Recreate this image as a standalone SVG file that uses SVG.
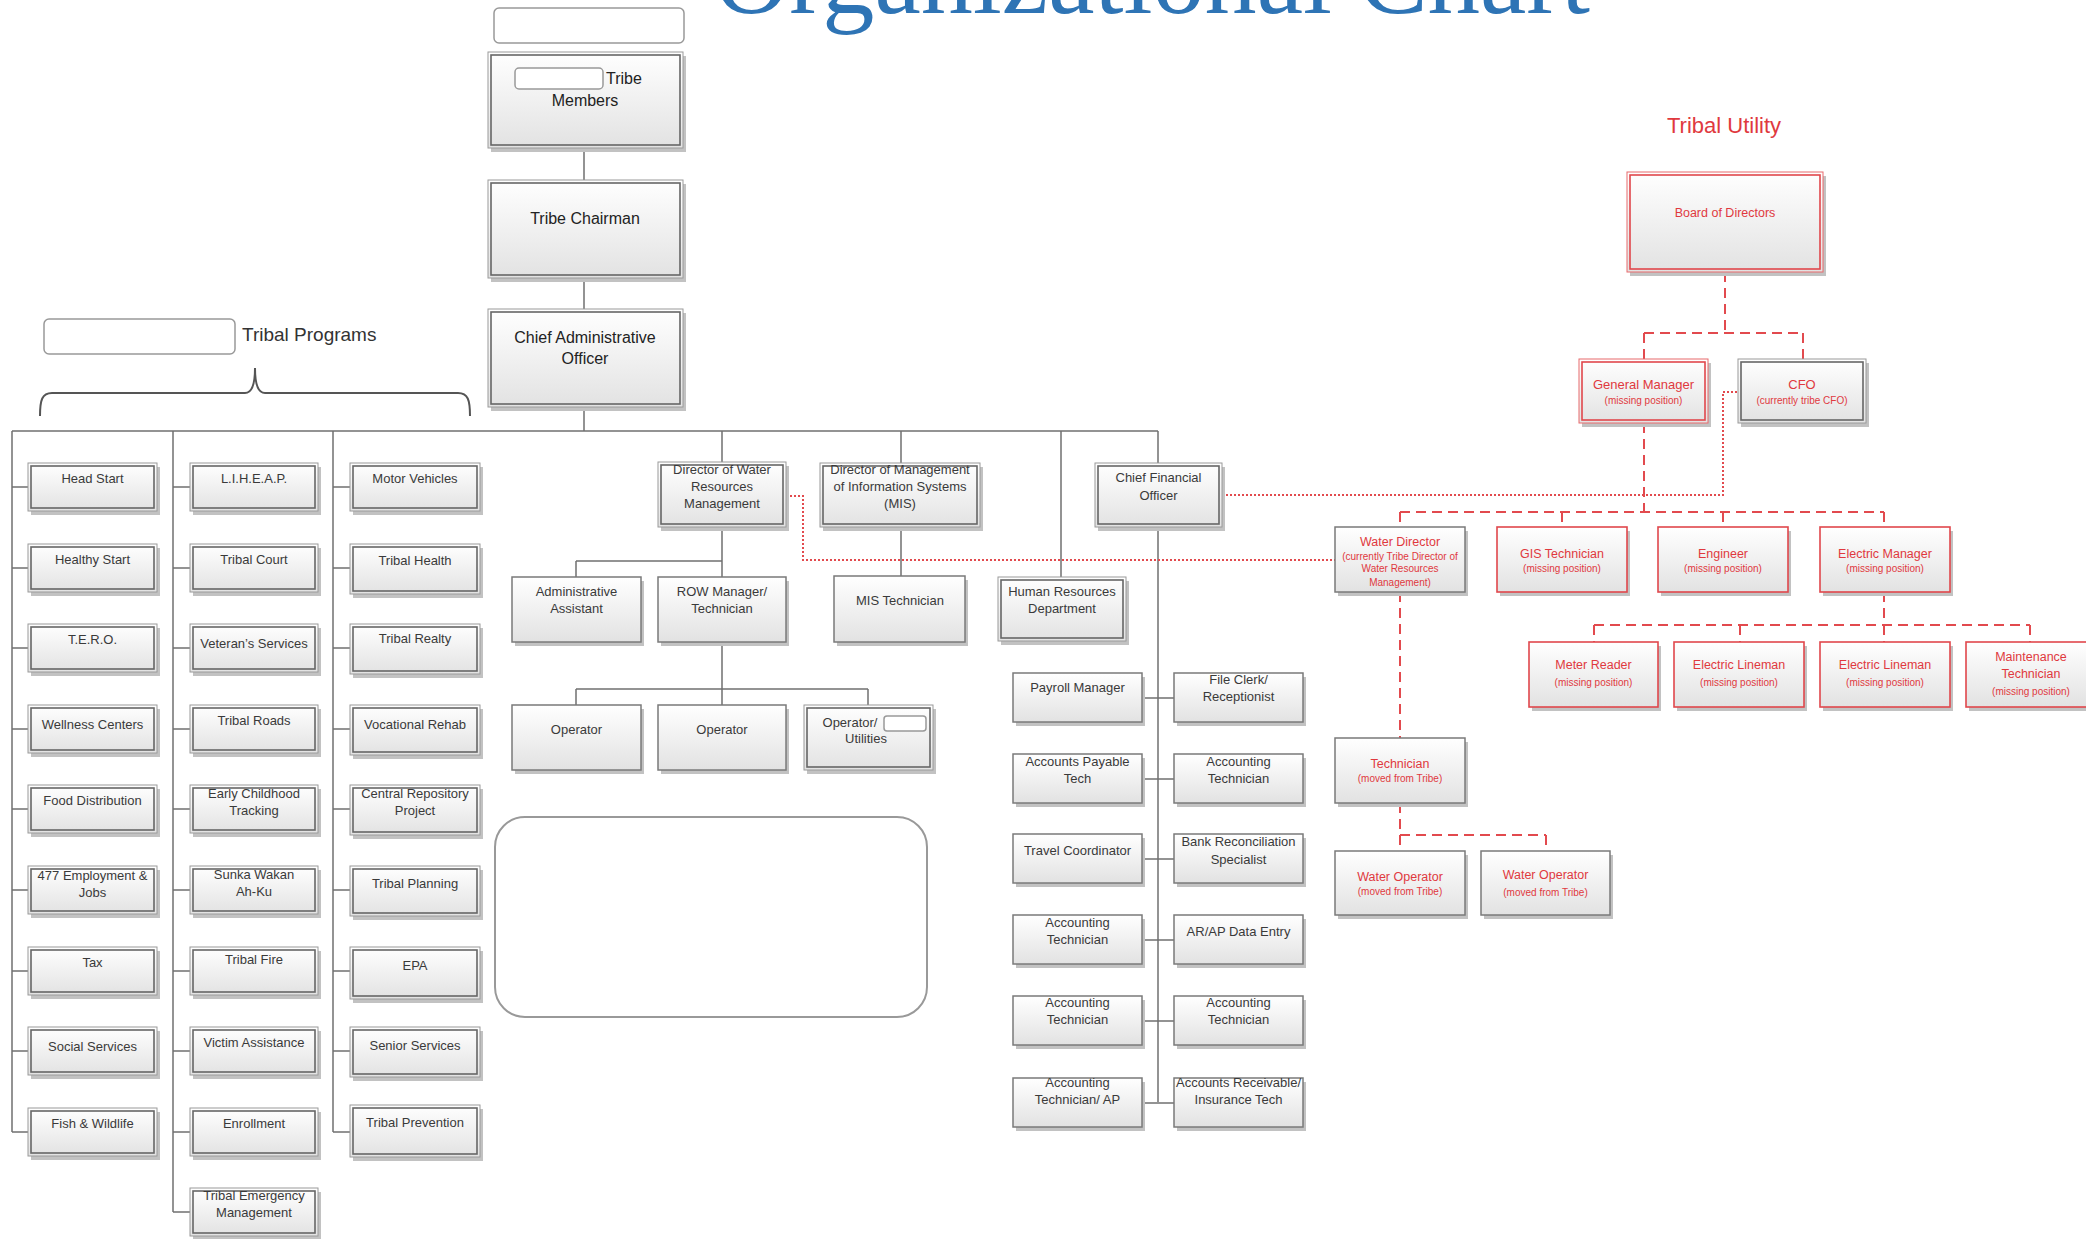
<svg xmlns="http://www.w3.org/2000/svg" width="2086" height="1239" viewBox="0 0 2086 1239">
<defs>
<linearGradient id="g" x1="0" y1="0" x2="0" y2="1"><stop offset="0" stop-color="#ffffff"/><stop offset="1" stop-color="#e2e2e2"/></linearGradient>
<style>
.sh{fill:#c2c2c2}
.b1{fill:url(#g);stroke:#7a7a7a;stroke-width:1.5}
.bo{fill:url(#g);stroke:#9a9a9a;stroke-width:1}
.bi{fill:none;stroke:#666;stroke-width:1.6}
.r1{fill:url(#g);stroke:#e0474c;stroke-width:1.6}
.ro{fill:url(#g);stroke:#e86a6c;stroke-width:1}
.ri{fill:none;stroke:#e0474c;stroke-width:1.6}
.er{fill:#fff;stroke:#999;stroke-width:1.5}
.t{font-family:"Liberation Sans",Arial,sans-serif;font-size:13px;fill:#3a3a3a;text-anchor:middle}
.tl{font-size:16px;fill:#222}
.rt{fill:#e0393e}
.rs{font-size:10px}
.ln{stroke:#707070;stroke-width:1.5;fill:none}
.dash{stroke:#e24a4e;stroke-width:2;stroke-dasharray:10 6;fill:none}
.dot{stroke:#e24a4e;stroke-width:2;stroke-dasharray:2 2;fill:none}
</style>
</defs>
<rect width="2086" height="1239" fill="#fff"/>
<text x="714" y="13" font-family="'Liberation Serif','DejaVu Serif',serif" font-size="104" fill="#2e74b5" textLength="876" lengthAdjust="spacingAndGlyphs">Organizational Chart</text>

<g id="connectors">
<path class="ln" d="M584,148V180M584,278V309M584,407V431M12,431H1158M12,431V1132M173,431V1212M333,431V1132"/>
<path class="ln" d="M12,487H28M12,568H28M12,648H28M12,729H28M12,809H28M12,890H28M12,971H28M12,1051H28M12,1132H28"/>
<path class="ln" d="M173,487H190M173,568H190M173,648H190M173,729H190M173,809H190M173,890H190M173,971H190M173,1051H190M173,1132H190M173,1212H190"/>
<path class="ln" d="M333,487H350M333,568H350M333,648H350M333,729H350M333,809H350M333,890H350M333,971H350M333,1051H350M333,1132H350"/>
<path class="ln" d="M722,431V462M722,527V577M576,561H722M576,561V577M722,642V705M576,689H868M576,689V705M868,689V705"/>
<path class="ln" d="M901,431V463M901,527V576M1061,431V577M1158,431V463M1158,527V1102"/>
<path class="ln" d="M1142,698H1174M1142,779H1174M1142,859H1174M1142,940H1174M1142,1021H1174M1142,1103H1174"/>
<path class="dash" d="M1725,272V333M1644,333H1803M1644,333V359M1803,333V359"/>
<path class="dash" d="M1644,423V512M1400,512H1884M1400,512V527M1562,512V527M1723,512V527M1884,512V527"/>
<path class="dash" d="M1884,592V625M1594,625H2030M1594,625V642M1740,625V642M1884,625V642M2030,625V642"/>
<path class="dash" d="M1400,592V738M1400,803V835M1400,835H1546M1546,835V851M1400,835V851"/>
<path class="dot" d="M786,496H803V560H1335"/>
<path class="dot" d="M1222,495H1723V392H1738"/>
</g>

<g id="n-top-blank"><rect class="er" x="494" y="8" width="190" height="35" rx="5"/></g>
<g id="n-tribe-members"><rect class="sh" x="491" y="56" width="195" height="96"/><rect class="bo" x="488" y="52" width="195" height="96"/><rect class="bi" x="491" y="55" width="189" height="90"/><rect class="er" x="515" y="68" width="88" height="21" rx="4"/><text class="t tl" x="606" y="84" text-anchor="start" style="text-anchor:start">Tribe</text><text class="t tl" x="585" y="106">Members</text></g>
<g id="n-tribe-chairman"><rect class="sh" x="491" y="184" width="195" height="98"/><rect class="bo" x="488" y="180" width="195" height="98"/><rect class="bi" x="491" y="183" width="189" height="92"/><text class="t tl" x="585" y="224">Tribe Chairman</text></g>
<g id="n-cao"><rect class="sh" x="491" y="313" width="195" height="98"/><rect class="bo" x="488" y="309" width="195" height="98"/><rect class="bi" x="491" y="312" width="189" height="92"/><text class="t tl" x="585" y="343">Chief Administrative</text><text class="t tl" x="585" y="364">Officer</text></g>

<g id="n-tribal-programs-label"><rect class="er" x="44" y="319" width="191" height="35" rx="5"/><text class="t" x="242" y="341" style="text-anchor:start;font-size:19px;fill:#333">Tribal Programs</text><path d="M40,416C40,400 42,393 52,393L245,393C252,393 255,385 255,368C255,385 258,393 265,393L458,393C468,393 470,400 470,416" fill="none" stroke="#555" stroke-width="2"/></g>

<g id="n-head-start"><rect class="sh" x="31" y="467" width="129" height="48"/><rect class="bo" x="28" y="463" width="129" height="48"/><rect class="bi" x="31" y="466" width="123" height="42"/><text class="t" x="92.5" y="483">Head Start</text></g>
<g id="n-healthy-start"><rect class="sh" x="31" y="548" width="129" height="48"/><rect class="bo" x="28" y="544" width="129" height="48"/><rect class="bi" x="31" y="547" width="123" height="42"/><text class="t" x="92.5" y="564">Healthy Start</text></g>
<g id="n-tero"><rect class="sh" x="31" y="628" width="129" height="48"/><rect class="bo" x="28" y="624" width="129" height="48"/><rect class="bi" x="31" y="627" width="123" height="42"/><text class="t" x="92.5" y="644">T.E.R.O.</text></g>
<g id="n-wellness"><rect class="sh" x="31" y="709" width="129" height="48"/><rect class="bo" x="28" y="705" width="129" height="48"/><rect class="bi" x="31" y="708" width="123" height="42"/><text class="t" x="92.5" y="729">Wellness Centers</text></g>
<g id="n-food"><rect class="sh" x="31" y="789" width="129" height="48"/><rect class="bo" x="28" y="785" width="129" height="48"/><rect class="bi" x="31" y="788" width="123" height="42"/><text class="t" x="92.5" y="805">Food Distribution</text></g>
<g id="n-477"><rect class="sh" x="31" y="870" width="129" height="48"/><rect class="bo" x="28" y="866" width="129" height="48"/><rect class="bi" x="31" y="869" width="123" height="42"/><text class="t" x="92.5" y="880">477 Employment &amp;</text><text class="t" x="92.5" y="897">Jobs</text></g>
<g id="n-tax"><rect class="sh" x="31" y="951" width="129" height="48"/><rect class="bo" x="28" y="947" width="129" height="48"/><rect class="bi" x="31" y="950" width="123" height="42"/><text class="t" x="92.5" y="967">Tax</text></g>
<g id="n-social"><rect class="sh" x="31" y="1031" width="129" height="48"/><rect class="bo" x="28" y="1027" width="129" height="48"/><rect class="bi" x="31" y="1030" width="123" height="42"/><text class="t" x="92.5" y="1051">Social Services</text></g>
<g id="n-fish"><rect class="sh" x="31" y="1112" width="129" height="48"/><rect class="bo" x="28" y="1108" width="129" height="48"/><rect class="bi" x="31" y="1111" width="123" height="42"/><text class="t" x="92.5" y="1128">Fish &amp; Wildlife</text></g>

<g id="n-liheap"><rect class="sh" x="193" y="467" width="128" height="48"/><rect class="bo" x="190" y="463" width="128" height="48"/><rect class="bi" x="193" y="466" width="122" height="42"/><text class="t" x="254" y="483">L.I.H.E.A.P.</text></g>
<g id="n-court"><rect class="sh" x="193" y="548" width="128" height="48"/><rect class="bo" x="190" y="544" width="128" height="48"/><rect class="bi" x="193" y="547" width="122" height="42"/><text class="t" x="254" y="564">Tribal Court</text></g>
<g id="n-veterans"><rect class="sh" x="193" y="628" width="128" height="48"/><rect class="bo" x="190" y="624" width="128" height="48"/><rect class="bi" x="193" y="627" width="122" height="42"/><text class="t" x="254" y="648">Veteran’s Services</text></g>
<g id="n-roads"><rect class="sh" x="193" y="709" width="128" height="48"/><rect class="bo" x="190" y="705" width="128" height="48"/><rect class="bi" x="193" y="708" width="122" height="42"/><text class="t" x="254" y="725">Tribal Roads</text></g>
<g id="n-early"><rect class="sh" x="193" y="789" width="128" height="48"/><rect class="bo" x="190" y="785" width="128" height="48"/><rect class="bi" x="193" y="788" width="122" height="42"/><text class="t" x="254" y="798">Early Childhood</text><text class="t" x="254" y="815">Tracking</text></g>
<g id="n-sunka"><rect class="sh" x="193" y="870" width="128" height="48"/><rect class="bo" x="190" y="866" width="128" height="48"/><rect class="bi" x="193" y="869" width="122" height="42"/><text class="t" x="254" y="879">Sunka Wakan</text><text class="t" x="254" y="896">Ah-Ku</text></g>
<g id="n-fire"><rect class="sh" x="193" y="951" width="128" height="48"/><rect class="bo" x="190" y="947" width="128" height="48"/><rect class="bi" x="193" y="950" width="122" height="42"/><text class="t" x="254" y="964">Tribal Fire</text></g>
<g id="n-victim"><rect class="sh" x="193" y="1031" width="128" height="48"/><rect class="bo" x="190" y="1027" width="128" height="48"/><rect class="bi" x="193" y="1030" width="122" height="42"/><text class="t" x="254" y="1047">Victim Assistance</text></g>
<g id="n-enrollment"><rect class="sh" x="193" y="1112" width="128" height="48"/><rect class="bo" x="190" y="1108" width="128" height="48"/><rect class="bi" x="193" y="1111" width="122" height="42"/><text class="t" x="254" y="1128">Enrollment</text></g>
<g id="n-emergency"><rect class="sh" x="193" y="1192" width="128" height="48"/><rect class="bo" x="190" y="1188" width="128" height="48"/><rect class="bi" x="193" y="1191" width="122" height="42"/><text class="t" x="254" y="1200">Tribal Emergency</text><text class="t" x="254" y="1217">Management</text></g>

<g id="n-motor"><rect class="sh" x="353" y="467" width="130" height="48"/><rect class="bo" x="350" y="463" width="130" height="48"/><rect class="bi" x="353" y="466" width="124" height="42"/><text class="t" x="415" y="483">Motor Vehicles</text></g>
<g id="n-health"><rect class="sh" x="353" y="548" width="130" height="50"/><rect class="bo" x="350" y="544" width="130" height="50"/><rect class="bi" x="353" y="547" width="124" height="44"/><text class="t" x="415" y="565">Tribal Health</text></g>
<g id="n-realty"><rect class="sh" x="353" y="628" width="130" height="50"/><rect class="bo" x="350" y="624" width="130" height="50"/><rect class="bi" x="353" y="627" width="124" height="44"/><text class="t" x="415" y="643">Tribal Realty</text></g>
<g id="n-vocational"><rect class="sh" x="353" y="709" width="130" height="50"/><rect class="bo" x="350" y="705" width="130" height="50"/><rect class="bi" x="353" y="708" width="124" height="44"/><text class="t" x="415" y="729">Vocational Rehab</text></g>
<g id="n-central"><rect class="sh" x="353" y="789" width="130" height="50"/><rect class="bo" x="350" y="785" width="130" height="50"/><rect class="bi" x="353" y="788" width="124" height="44"/><text class="t" x="415" y="798">Central Repository</text><text class="t" x="415" y="815">Project</text></g>
<g id="n-planning"><rect class="sh" x="353" y="870" width="130" height="50"/><rect class="bo" x="350" y="866" width="130" height="50"/><rect class="bi" x="353" y="869" width="124" height="44"/><text class="t" x="415" y="888">Tribal Planning</text></g>
<g id="n-epa"><rect class="sh" x="353" y="951" width="130" height="52"/><rect class="bo" x="350" y="947" width="130" height="52"/><rect class="bi" x="353" y="950" width="124" height="46"/><text class="t" x="415" y="970">EPA</text></g>
<g id="n-senior"><rect class="sh" x="353" y="1031" width="130" height="50"/><rect class="bo" x="350" y="1027" width="130" height="50"/><rect class="bi" x="353" y="1030" width="124" height="44"/><text class="t" x="415" y="1050">Senior Services</text></g>
<g id="n-prevention"><rect class="sh" x="353" y="1109" width="130" height="52"/><rect class="bo" x="350" y="1105" width="130" height="52"/><rect class="bi" x="353" y="1108" width="124" height="46"/><text class="t" x="415" y="1127">Tribal Prevention</text></g>

<g id="n-dir-water"><rect class="sh" x="661" y="466" width="128" height="65"/><rect class="bo" x="658" y="462" width="128" height="65"/><rect class="bi" x="661" y="465" width="122" height="59"/><text class="t" x="722" y="474">Director of Water</text><text class="t" x="722" y="491">Resources</text><text class="t" x="722" y="508">Management</text></g>
<g id="n-admin-asst"><rect class="sh" x="515" y="581" width="129" height="65"/><rect class="b1" x="512" y="577" width="129" height="65"/><text class="t" x="576.5" y="596">Administrative</text><text class="t" x="576.5" y="613">Assistant</text></g>
<g id="n-row"><rect class="sh" x="661" y="581" width="128" height="65"/><rect class="b1" x="658" y="577" width="128" height="65"/><text class="t" x="722" y="596">ROW Manager/</text><text class="t" x="722" y="613">Technician</text></g>
<g id="n-operator1"><rect class="sh" x="515" y="709" width="129" height="65"/><rect class="b1" x="512" y="705" width="129" height="65"/><text class="t" x="576.5" y="734">Operator</text></g>
<g id="n-operator2"><rect class="sh" x="661" y="709" width="128" height="65"/><rect class="b1" x="658" y="705" width="128" height="65"/><text class="t" x="722" y="734">Operator</text></g>
<g id="n-operator-utilities"><rect class="sh" x="807" y="709" width="129" height="65"/><rect class="bo" x="804" y="705" width="129" height="65"/><rect class="bi" x="807" y="708" width="123" height="59"/><text class="t" x="850" y="727">Operator/</text><rect class="er" x="884" y="716" width="42" height="15" rx="3"/><text class="t" x="866" y="743">Utilities</text></g>
<g id="n-blank-panel"><rect x="495" y="817" width="432" height="200" rx="30" fill="#fff" stroke="#999" stroke-width="2"/></g>

<g id="n-dir-mis"><rect class="sh" x="823" y="467" width="160" height="64"/><rect class="bo" x="820" y="463" width="160" height="64"/><rect class="bi" x="823" y="466" width="154" height="58"/><text class="t" x="900" y="474">Director of Management</text><text class="t" x="900" y="491">of Information Systems</text><text class="t" x="900" y="508">(MIS)</text></g>
<g id="n-mis-tech"><rect class="sh" x="837" y="580" width="131" height="66"/><rect class="b1" x="834" y="576" width="131" height="66"/><text class="t" x="900" y="605">MIS Technician</text></g>
<g id="n-hr"><rect class="sh" x="1001" y="581" width="128" height="64"/><rect class="bo" x="998" y="577" width="128" height="64"/><rect class="bi" x="1001" y="580" width="122" height="58"/><text class="t" x="1062" y="596">Human Resources</text><text class="t" x="1062" y="613">Department</text></g>
<g id="n-cfo"><rect class="sh" x="1098" y="467" width="127" height="64"/><rect class="bo" x="1095" y="463" width="127" height="64"/><rect class="bi" x="1098" y="466" width="121" height="58"/><text class="t" x="1158.5" y="482">Chief Financial</text><text class="t" x="1158.5" y="500">Officer</text></g>

<g id="n-payroll"><rect class="sh" x="1016" y="677" width="129" height="49"/><rect class="b1" x="1013" y="673" width="129" height="49"/><text class="t" x="1077.5" y="692">Payroll Manager</text></g>
<g id="n-fileclerk"><rect class="sh" x="1177" y="677" width="129" height="49"/><rect class="b1" x="1174" y="673" width="129" height="49"/><text class="t" x="1238.5" y="684">File Clerk/</text><text class="t" x="1238.5" y="701">Receptionist</text></g>
<g id="n-ap-tech"><rect class="sh" x="1016" y="758" width="129" height="49"/><rect class="b1" x="1013" y="754" width="129" height="49"/><text class="t" x="1077.5" y="766">Accounts Payable</text><text class="t" x="1077.5" y="783">Tech</text></g>
<g id="n-acct1"><rect class="sh" x="1177" y="758" width="129" height="49"/><rect class="b1" x="1174" y="754" width="129" height="49"/><text class="t" x="1238.5" y="766">Accounting</text><text class="t" x="1238.5" y="783">Technician</text></g>
<g id="n-travel"><rect class="sh" x="1016" y="838" width="129" height="49"/><rect class="b1" x="1013" y="834" width="129" height="49"/><text class="t" x="1077.5" y="855">Travel Coordinator</text></g>
<g id="n-bank"><rect class="sh" x="1177" y="838" width="129" height="49"/><rect class="b1" x="1174" y="834" width="129" height="49"/><text class="t" x="1238.5" y="846">Bank Reconciliation</text><text class="t" x="1238.5" y="864">Specialist</text></g>
<g id="n-acct2"><rect class="sh" x="1016" y="919" width="129" height="49"/><rect class="b1" x="1013" y="915" width="129" height="49"/><text class="t" x="1077.5" y="927">Accounting</text><text class="t" x="1077.5" y="944">Technician</text></g>
<g id="n-arap"><rect class="sh" x="1177" y="919" width="129" height="49"/><rect class="b1" x="1174" y="915" width="129" height="49"/><text class="t" x="1238.5" y="936">AR/AP Data Entry</text></g>
<g id="n-acct3"><rect class="sh" x="1016" y="1000" width="129" height="49"/><rect class="b1" x="1013" y="996" width="129" height="49"/><text class="t" x="1077.5" y="1007">Accounting</text><text class="t" x="1077.5" y="1024">Technician</text></g>
<g id="n-acct4"><rect class="sh" x="1177" y="1000" width="129" height="49"/><rect class="b1" x="1174" y="996" width="129" height="49"/><text class="t" x="1238.5" y="1007">Accounting</text><text class="t" x="1238.5" y="1024">Technician</text></g>
<g id="n-acct-ap"><rect class="sh" x="1016" y="1082" width="129" height="49"/><rect class="b1" x="1013" y="1078" width="129" height="49"/><text class="t" x="1077.5" y="1087">Accounting</text><text class="t" x="1077.5" y="1104">Technician/ AP</text></g>
<g id="n-ar-ins"><rect class="sh" x="1177" y="1082" width="129" height="49"/><rect class="b1" x="1174" y="1078" width="129" height="49"/><text class="t" x="1238.5" y="1087">Accounts Receivable/</text><text class="t" x="1238.5" y="1104">Insurance Tech</text></g>

<g id="n-utility-title"><text class="t rt" x="1724" y="133" style="font-size:22px">Tribal Utility</text></g>
<g id="n-board"><rect class="sh" x="1630" y="176" width="196" height="100"/><rect class="ro" x="1627" y="172" width="196" height="100"/><rect class="ri" x="1630" y="175" width="190" height="94"/><text class="t rt" x="1725" y="217" style="font-size:12.5px">Board of Directors</text></g>
<g id="n-gm"><rect class="sh" x="1582" y="363" width="129" height="64"/><rect class="ro" x="1579" y="359" width="129" height="64"/><rect class="ri" x="1582" y="362" width="123" height="58"/><text class="t rt" x="1643.5" y="389">General Manager</text><text class="t rt rs" x="1643.5" y="404">(missing position)</text></g>
<g id="n-cfo-utility"><rect class="sh" x="1741" y="363" width="128" height="64"/><rect class="bo" x="1738" y="359" width="128" height="64"/><rect class="bi" x="1741" y="362" width="122" height="58"/><text class="t rt" x="1802" y="389">CFO</text><text class="t rt rs" x="1802" y="404">(currently tribe CFO)</text></g>
<g id="n-water-director"><rect class="sh" x="1338" y="531" width="130" height="65"/><rect class="b1" x="1335" y="527" width="130" height="65"/><text class="t rt" x="1400" y="546" style="font-size:12.5px">Water Director</text><text class="t rt rs" x="1400" y="560">(currently Tribe Director of</text><text class="t rt rs" x="1400" y="572">Water Resources</text><text class="t rt rs" x="1400" y="586">Management)</text></g>
<g id="n-gis"><rect class="sh" x="1500" y="531" width="130" height="65"/><rect class="r1" x="1497" y="527" width="130" height="65"/><text class="t rt" x="1562" y="558" style="font-size:12.5px">GIS Technician</text><text class="t rt rs" x="1562" y="572">(missing position)</text></g>
<g id="n-engineer"><rect class="sh" x="1661" y="531" width="130" height="65"/><rect class="r1" x="1658" y="527" width="130" height="65"/><text class="t rt" x="1723" y="558" style="font-size:12.5px">Engineer</text><text class="t rt rs" x="1723" y="572">(missing position)</text></g>
<g id="n-elec-mgr"><rect class="sh" x="1823" y="531" width="130" height="65"/><rect class="r1" x="1820" y="527" width="130" height="65"/><text class="t rt" x="1885" y="558" style="font-size:12.5px">Electric Manager</text><text class="t rt rs" x="1885" y="572">(missing position)</text></g>
<g id="n-meter"><rect class="sh" x="1532" y="646" width="129" height="65"/><rect class="r1" x="1529" y="642" width="129" height="65"/><text class="t rt" x="1593.5" y="669" style="font-size:12.5px">Meter Reader</text><text class="t rt rs" x="1593.5" y="686">(missing position)</text></g>
<g id="n-lineman1"><rect class="sh" x="1677" y="646" width="130" height="65"/><rect class="r1" x="1674" y="642" width="130" height="65"/><text class="t rt" x="1739" y="669" style="font-size:12.5px">Electric Lineman</text><text class="t rt rs" x="1739" y="686">(missing position)</text></g>
<g id="n-lineman2"><rect class="sh" x="1823" y="646" width="130" height="65"/><rect class="r1" x="1820" y="642" width="130" height="65"/><text class="t rt" x="1885" y="669" style="font-size:12.5px">Electric Lineman</text><text class="t rt rs" x="1885" y="686">(missing position)</text></g>
<g id="n-maintenance"><rect class="sh" x="1969" y="646" width="130" height="65"/><rect class="r1" x="1966" y="642" width="130" height="65"/><text class="t rt" x="2031" y="661" style="font-size:12.5px">Maintenance</text><text class="t rt" x="2031" y="678" style="font-size:12.5px">Technician</text><text class="t rt rs" x="2031" y="695">(missing position)</text></g>
<g id="n-technician"><rect class="sh" x="1338" y="742" width="130" height="65"/><rect class="b1" x="1335" y="738" width="130" height="65"/><text class="t rt" x="1400" y="768" style="font-size:12.5px">Technician</text><text class="t rt rs" x="1400" y="782">(moved from Tribe)</text></g>
<g id="n-water-op1"><rect class="sh" x="1338" y="855" width="130" height="64"/><rect class="b1" x="1335" y="851" width="130" height="64"/><text class="t rt" x="1400" y="881" style="font-size:12.5px">Water Operator</text><text class="t rt rs" x="1400" y="895">(moved from Tribe)</text></g>
<g id="n-water-op2"><rect class="sh" x="1484" y="855" width="129" height="64"/><rect class="b1" x="1481" y="851" width="129" height="64"/><text class="t rt" x="1545.5" y="879" style="font-size:12.5px">Water Operator</text><text class="t rt rs" x="1545.5" y="896">(moved from Tribe)</text></g>
</svg>
